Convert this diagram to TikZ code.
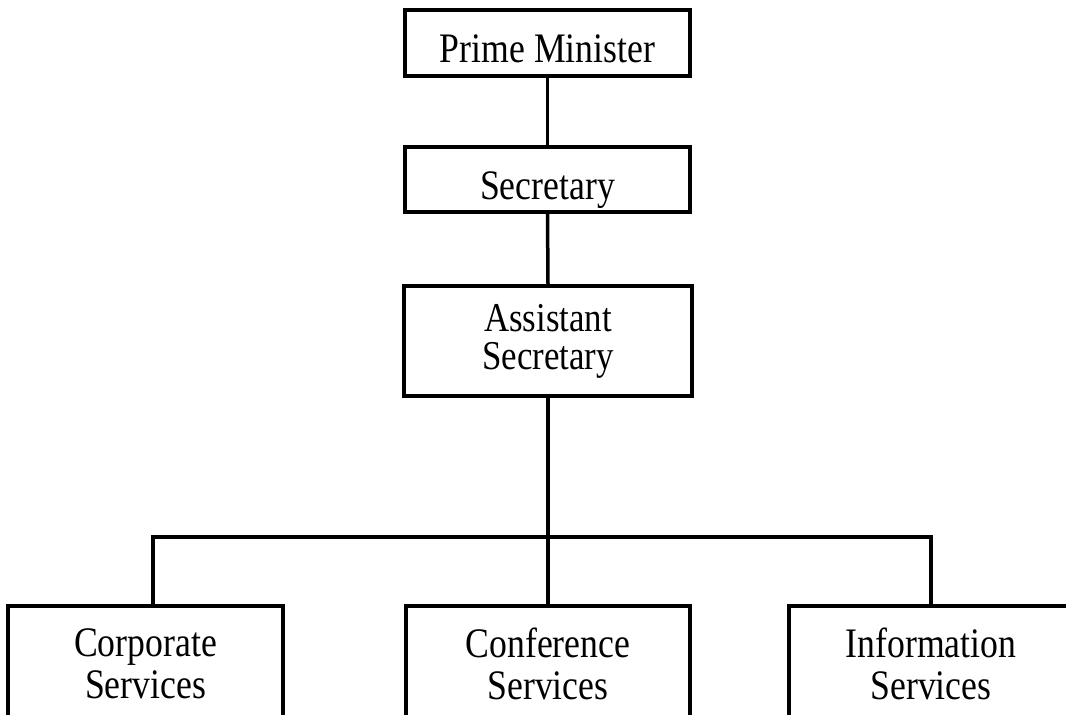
\documentclass[tikz,border=0pt]{standalone}
\usepackage{fontspec}
\setmainfont{Liberation Serif}[FakeStretch=0.85]
\begin{document}
\begin{tikzpicture}[x=1pt,y=-1pt,
  line width=3.5pt,
  orgbox/.style={draw, rectangle, line width=3.5pt, inner sep=0pt, align=center},
  onebox/.style={orgbox, font=\fontsize{42}{42}\selectfont, text height=39pt, text depth=0pt},
  twobox/.style={orgbox, font=\fontsize{41}{38}\selectfont},
  lowbox/.style={orgbox, font=\fontsize{42}{42}\selectfont},
  conn/.style={draw, line width=3.5pt, line join=miter}]
\clip (0,0) rectangle (1066,715);
\fill[white] (0,0) rectangle (1066,715);
\node[onebox, minimum width=285pt, minimum height=66pt] (pm) at (547.5,43) {Prime Minister};
\node[onebox, minimum width=285pt, minimum height=65pt] (sec) at (547.5,179.5) {Secretary};
\node[twobox, minimum width=288pt, minimum height=110pt] (asst) at (548,341) {Assistant\\Secretary};
\node[lowbox, minimum width=275pt, minimum height=116pt] (corp) at (145.5,664) {Corporate\\Services};
\node[lowbox, minimum width=284pt, minimum height=116pt] (conf) at (548,664) {Conference\\Services};
\node[lowbox, minimum width=284pt, minimum height=116pt] (info) at (931,664) {Information\\Services};
\coordinate (busL) at (153,537);
\coordinate (busR) at (931,537);
\draw[conn] (pm.south) -- (sec.north);
\draw[conn] (sec.south) -- (asst.north);
\draw[conn] (asst.south) -- (conf.north);
\draw[conn] (busL |- corp.north) -- (busL) -- (busR) -- (info.north);
\end{tikzpicture}
\end{document}
